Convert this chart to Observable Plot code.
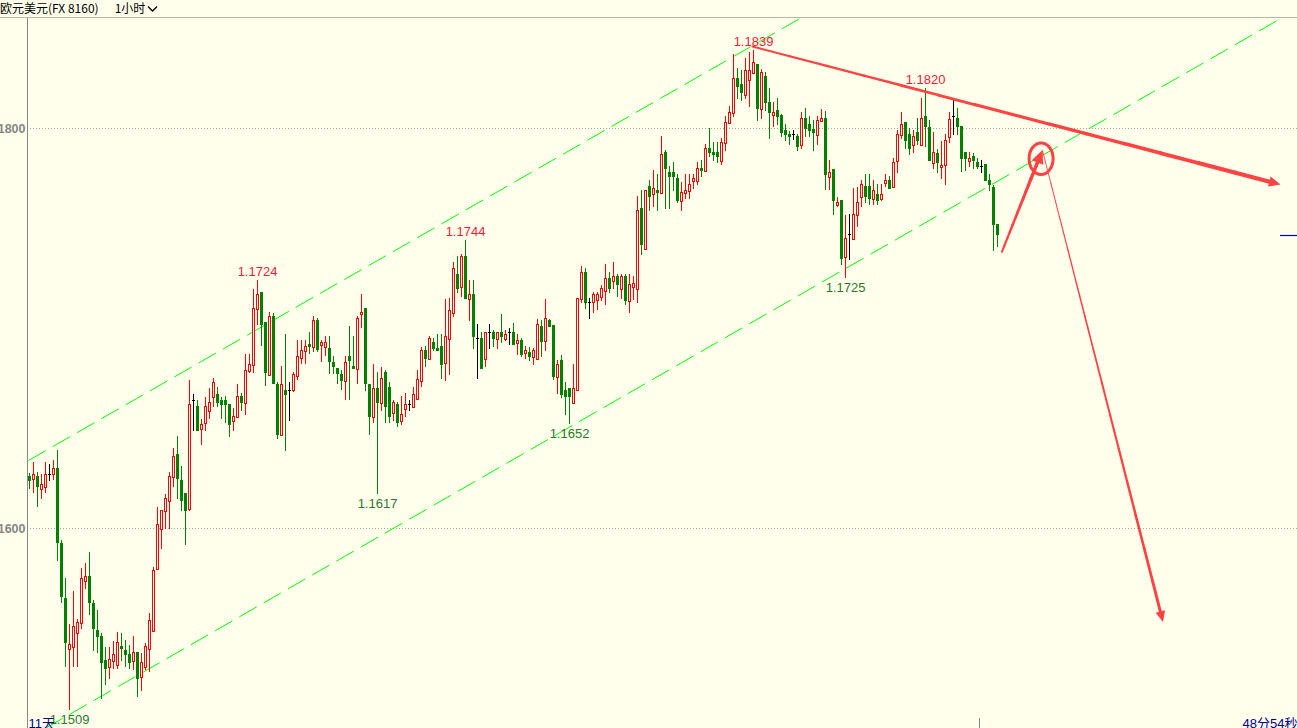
<!DOCTYPE html>
<html><head><meta charset="utf-8">
<script src="https://cdn.jsdelivr.net/npm/d3@7"></script>
<script src="https://cdn.jsdelivr.net/npm/@observablehq/plot@0.6"></script>
<style>
html,body{margin:0;padding:0;background:#ffffec;overflow:hidden;}
#hdr{height:17px;border-bottom:1px solid #b8b8a4;font-family:"Noto Sans CJK SC",sans-serif;font-size:12px;line-height:16px;color:#000;white-space:nowrap;}
#chart svg{display:block;}
</style></head><body>
<div id="hdr"><span>欧元美元(FX 8160)</span><span style="margin-left:16px">1小时</span><svg width="11" height="8" style="margin-left:2px;vertical-align:0px"><polyline points="1,1.5 5.5,6 10,1.5" fill="none" stroke="#000" stroke-width="1.3"/></svg></div>
<div id="chart"></div>
<script>
// ---- candle data (EUR/USD, 1 hour) ----
const opens = [1.1626,1.16245,1.1626,1.16195,1.16205,1.1627,1.1627,1.163,1.15925,1.1565,
1.15395,1.15405,1.15475,1.15525,1.15735,1.1576,1.15625,1.1549,1.1546,1.1534,
1.15305,1.15335,1.15315,1.1541,1.1539,1.1537,1.15335,1.1538,1.15255,1.15305,
1.15395,1.15485,1.15795,1.15995,1.16085,1.16135,1.16255,1.1637,1.1624,1.16175,
1.16095,1.1664,1.1661,1.16495,1.16525,1.16585,1.16655,1.1667,1.1664,1.1664,
1.1662,1.16535,1.16555,1.1666,1.16625,1.16785,1.16815,1.17095,1.1718,1.1703,
1.16765,1.1706,1.1672,1.16465,1.1669,1.1669,1.1669,1.1676,1.1685,1.16885,
1.1692,1.16905,1.1704,1.16915,1.16905,1.169,1.1683,1.168,1.1677,1.16735,
1.1686,1.1681,1.16795,1.1707,1.171,1.1672,1.16555,1.167,1.16625,1.1678,
1.16705,1.16575,1.1662,1.16535,1.16595,1.1662,1.16605,1.16645,1.16735,1.1689,
1.16845,1.1693,1.169,1.1691,1.16825,1.16945,1.17075,1.1727,1.17205,1.1736,
1.17145,1.1717,1.1695,1.1695,1.16845,1.1698,1.1698,1.16945,1.1698,1.16945,
1.1698,1.1698,1.16925,1.1694,1.16875,1.1688,1.16855,1.16845,1.1701,1.16935,
1.1704,1.17015,1.16755,1.1684,1.1669,1.167,1.16625,1.1669,1.17145,1.1728,
1.1713,1.1713,1.1714,1.17155,1.17185,1.1725,1.17235,1.1726,1.17195,1.1726,
1.17135,1.17205,1.17195,1.176,1.17395,1.1771,1.1767,1.1769,1.17675,1.1788,
1.1778,1.1778,1.1775,1.17635,1.17675,1.17685,1.17735,1.17735,1.178,1.17785,
1.179,1.1788,1.1788,1.17835,1.17925,1.18025,1.18075,1.1825,1.1822,1.18165,
1.1824,1.18275,1.1832,1.18095,1.1826,1.1813,1.18065,1.1809,1.18065,1.1799,
1.1797,1.1797,1.1796,1.17915,1.1805,1.1802,1.17995,1.17965,1.18035,1.1805,
1.17755,1.17795,1.17615,1.1764,1.17355,1.1747,1.17445,1.17565,1.17655,1.1771,
1.1771,1.17645,1.1767,1.17645,1.17725,1.1774,1.17705,1.17835,1.17965,1.1803,
1.1797,1.17915,1.1798,1.17915,1.1806,1.18005,1.17825,1.17875,1.17805,1.17815,
1.17955,1.1806,1.1805,1.1801,1.1788,1.17835,1.1786,1.1783,1.1781,1.1782,
1.1774,1.17705,1.1752];
const highs = [1.16275,1.1633,1.1628,1.1627,1.1633,1.1632,1.1634,1.1639,1.1594,1.1575,
1.1552,1.15685,1.15545,1.158,1.15825,1.1588,1.1564,1.1559,1.15475,1.15405,
1.15405,1.15435,1.1548,1.15475,1.1544,1.15415,1.1546,1.1538,1.15375,1.15425,
1.15575,1.15805,1.16105,1.1609,1.1617,1.1628,1.164,1.1646,1.1631,1.16175,
1.1674,1.1667,1.1664,1.16545,1.16655,1.167,1.1675,1.16705,1.16655,1.1666,
1.1662,1.166,1.1672,1.16675,1.1687,1.1687,1.17195,1.1724,1.1718,1.1703,
1.1708,1.17075,1.1673,1.1681,1.1697,1.1673,1.1678,1.1694,1.1694,1.1694,
1.1698,1.1706,1.1705,1.1694,1.1696,1.1696,1.1686,1.168,1.1679,1.1686,
1.1701,1.1696,1.1706,1.1717,1.171,1.1672,1.1682,1.1678,1.16805,1.1679,
1.1673,1.1664,1.1663,1.1666,1.16675,1.1664,1.16705,1.1679,1.16905,1.1691,
1.1696,1.1695,1.1697,1.1697,1.17145,1.1715,1.1733,1.1736,1.1737,1.1744,
1.1724,1.1724,1.1702,1.1698,1.1698,1.1702,1.1699,1.1698,1.1707,1.1699,
1.17,1.17025,1.1697,1.1695,1.1691,1.16905,1.169,1.17045,1.1704,1.17145,
1.17045,1.17015,1.1684,1.16865,1.1673,1.167,1.1682,1.1715,1.1731,1.173,
1.1715,1.1718,1.1718,1.17215,1.1732,1.1728,1.1733,1.1727,1.1727,1.1727,
1.1727,1.1726,1.1766,1.1769,1.1769,1.1774,1.1779,1.1777,1.1796,1.1789,
1.1781,1.1783,1.1777,1.1773,1.1777,1.1777,1.1777,1.1783,1.1784,1.1792,
1.18,1.1793,1.1793,1.1795,1.1806,1.1811,1.1837,1.183,1.1829,1.1835,
1.1838,1.1839,1.1832,1.18295,1.1828,1.182,1.1813,1.1815,1.1807,1.1802,
1.17985,1.1799,1.1797,1.1808,1.181,1.1806,1.1804,1.1806,1.18095,1.18085,
1.1784,1.17795,1.17655,1.1764,1.17565,1.1757,1.177,1.17705,1.1774,1.1777,
1.1777,1.1774,1.1772,1.1772,1.1777,1.1776,1.1785,1.1799,1.1808,1.1803,
1.18,1.1799,1.1805,1.1815,1.182,1.1804,1.1798,1.17895,1.17935,1.1797,
1.1808,1.1814,1.181,1.1801,1.1788,1.1788,1.17875,1.1785,1.1784,1.1782,
1.1777,1.17715,1.1752];
const lows = [1.16195,1.16175,1.16105,1.16145,1.16175,1.16235,1.1624,1.15835,1.15625,1.15305,
1.1509,1.15305,1.15305,1.15495,1.15695,1.15565,1.15385,1.15375,1.15145,1.15215,
1.15245,1.15295,1.15295,1.15335,1.15305,1.15295,1.1529,1.15155,1.15185,1.1529,
1.1528,1.15485,1.15795,1.15895,1.15995,1.15995,1.16205,1.16145,1.16085,1.15915,
1.16085,1.16485,1.16485,1.16415,1.16485,1.16545,1.16605,1.16605,1.16545,1.16525,
1.16455,1.16485,1.16555,1.16585,1.16565,1.16775,1.16775,1.17015,1.1691,1.1671,
1.16765,1.1672,1.16445,1.16465,1.16385,1.16535,1.1668,1.1674,1.1682,1.1682,
1.1687,1.1688,1.1688,1.1683,1.1686,1.1677,1.1677,1.1672,1.1669,1.1664,
1.1664,1.16795,1.1672,1.17,1.16685,1.16465,1.16525,1.1617,1.16585,1.16525,
1.16525,1.16535,1.16505,1.16515,1.16555,1.16585,1.16605,1.16645,1.16705,1.16805,
1.16845,1.16885,1.16885,1.16745,1.16735,1.16765,1.17055,1.17175,1.17155,1.17145,
1.17035,1.16895,1.16745,1.16795,1.16805,1.16895,1.16905,1.16895,1.16925,1.16935,
1.16915,1.16915,1.16865,1.16855,1.16845,1.16835,1.16815,1.16845,1.16855,1.16885,
1.17005,1.1674,1.1667,1.1665,1.16565,1.1652,1.16625,1.1669,1.17125,1.17095,
1.17045,1.17075,1.1709,1.17135,1.17115,1.17175,1.17195,1.17155,1.17145,1.17115,
1.17075,1.1714,1.17125,1.17365,1.17395,1.17585,1.17605,1.17585,1.17675,1.17595,
1.17595,1.17685,1.17625,1.17585,1.17645,1.17645,1.17695,1.17715,1.17755,1.17785,
1.17855,1.17835,1.17825,1.17815,1.17885,1.18025,1.18055,1.18145,1.18135,1.18145,
1.18105,1.18275,1.18035,1.18045,1.18085,1.17945,1.18005,1.18015,1.17955,1.17935,
1.17915,1.1794,1.17885,1.17895,1.17955,1.17955,1.17885,1.17915,1.18035,1.1769,
1.1769,1.17565,1.17605,1.17315,1.1725,1.1734,1.17445,1.17505,1.17605,1.17625,
1.17615,1.17615,1.17615,1.17635,1.17705,1.17695,1.17705,1.17775,1.17945,1.17895,
1.17865,1.17875,1.17915,1.17915,1.17905,1.17835,1.17795,1.17775,1.17745,1.17715,
1.17925,1.17965,1.17965,1.1778,1.17785,1.17805,1.17795,1.17795,1.17775,1.17735,
1.17685,1.17385,1.17405];
const closes = [1.16235,1.1627,1.16205,1.1622,1.1627,1.1627,1.163,1.15925,1.15655,1.15425,
1.1542,1.1551,1.1553,1.1575,1.1576,1.15625,1.15495,1.15455,1.15325,1.15295,
1.15345,1.1537,1.1543,1.15395,1.15365,1.15325,1.1538,1.15245,1.1533,1.1541,
1.1554,1.1579,1.1602,1.1609,1.1615,1.1626,1.1636,1.16245,1.16135,1.16085,
1.1662,1.1664,1.16485,1.1652,1.1661,1.1663,1.1673,1.16625,1.16615,1.16615,
1.16515,1.1656,1.1666,1.16625,1.1679,1.1682,1.171,1.1717,1.17015,1.16775,
1.1706,1.1672,1.16465,1.1672,1.16665,1.1669,1.1677,1.1686,1.1689,1.1691,
1.16905,1.1704,1.1689,1.1693,1.1693,1.1683,1.16805,1.1677,1.16735,1.1683,
1.16835,1.16795,1.1705,1.1708,1.1672,1.16555,1.167,1.16625,1.1675,1.16605,
1.16555,1.1663,1.16525,1.1657,1.1662,1.1662,1.1667,1.16745,1.1689,1.16845,
1.1695,1.16895,1.16885,1.16815,1.1696,1.1709,1.173,1.17195,1.1736,1.17145,
1.1717,1.16955,1.1695,1.16795,1.1698,1.1698,1.16945,1.1698,1.16955,1.1697,
1.1698,1.16915,1.1694,1.16865,1.1689,1.16855,1.1689,1.1702,1.1693,1.1705,
1.17005,1.16755,1.1682,1.16665,1.16655,1.16655,1.167,1.1715,1.1728,1.17125,
1.1713,1.1717,1.1717,1.172,1.1725,1.17195,1.1726,1.17215,1.1726,1.17135,
1.1722,1.17225,1.1759,1.17415,1.1769,1.17655,1.177,1.17675,1.1787,1.17795,
1.17755,1.17755,1.17635,1.1768,1.1769,1.1772,1.1775,1.178,1.17785,1.179,
1.17875,1.17865,1.17855,1.1793,1.1803,1.1808,1.1825,1.18205,1.18175,1.1829,
1.1829,1.1833,1.18095,1.1828,1.18125,1.18075,1.1808,1.18055,1.17975,1.17965,
1.17955,1.1797,1.17905,1.1805,1.17995,1.17985,1.17975,1.1804,1.1805,1.17765,
1.1778,1.17635,1.1763,1.17345,1.1745,1.1747,1.1757,1.1763,1.1772,1.17655,
1.17645,1.1769,1.17635,1.1767,1.1774,1.17695,1.1783,1.1797,1.1802,1.17935,
1.17895,1.1796,1.17935,1.1805,1.18005,1.17835,1.1788,1.17825,1.17815,1.1794,
1.18045,1.1806,1.18005,1.17845,1.17845,1.1785,1.17835,1.17805,1.1781,1.17735,
1.17715,1.17515,1.17465];

// y-axis grid prices
const gridPrices = [1.16, 1.18];
// marked swing highs / lows (candle indices)
const peakIdx = [57, 109, 181, 224];
const troughIdx = [10, 87, 135, 204];
// drawn channel lines: [index, price] endpoints
const channelUpper = [[-0.25, 1.1634], [192.6, 1.1855]];
const channelLower = [[3.9, 1.15], [312.8, 1.1855]];
// drawn red arrows: start and tip, [index, price]
const arrowStart = [[180.75, 1.1841], [243.1, 1.17383], [253.25, 1.1789]];
const arrowTip = [[312.75, 1.1772], [253.25, 1.17893], [283.375, 1.15533]];
// drawn red ellipse centre
const ringCenter = [[252.9, 1.17849]];
// session tick on time axis
const sessionTick = [237.5];
const cornerLeft = "11天";
const cornerRight = "48分54秒";

// ---- layout / style ----
const W = 1297, H = 710, ML = 27;
const xDomain = [-0.5, 317], yDomain = [1.15, 1.1855];
const BG = "#ffffec", RED = "#ff0000", GREEN = "#008000", ARED = "#ff4242";
const arrowStyle = [{w1: 2, w2: 4.2, r: 5.8}, {w1: 2, w2: 3.6, r: 6.8}, {w1: 0.8, w2: 3, r: 5.4}];

const candles = opens.map((o, i) => ({i, open: o, high: highs[i], low: lows[i], close: closes[i]}));
const up = candles.filter(d => d.close > d.open);
const down = candles.filter(d => d.close < d.open);
const doji = candles.filter(d => d.close === d.open);

const sx = d3.scaleLinear(xDomain, [ML, W]);
const sy = d3.scaleLinear(yDomain, [H, 0]);

function headSymbol(ux, uy) {
  return {draw(ctx, size) {
    const r = Math.sqrt(size / Math.PI), L = 2 * r, w = 1.8 * r;
    const bx = -L * ux, by = -L * uy, px = -uy * w / 2, py = ux * w / 2;
    ctx.moveTo(0, 0); ctx.lineTo(bx + px, by + py); ctx.lineTo(bx - px, by - py); ctx.closePath();
  }};
}
const ellipseSymbol = {draw(ctx, size) {
  const ry = Math.sqrt(size / Math.PI), rx = ry * 0.76, k = 0.5523;
  ctx.moveTo(rx, 0);
  ctx.bezierCurveTo(rx, k * ry, k * rx, ry, 0, ry);
  ctx.bezierCurveTo(-k * rx, ry, -rx, k * ry, -rx, 0);
  ctx.bezierCurveTo(-rx, -k * ry, -k * rx, -ry, 0, -ry);
  ctx.bezierCurveTo(k * rx, -ry, rx, -k * ry, rx, 0);
  ctx.closePath();
}};

const arrowMarks = [];
arrowStart.forEach((s, k) => {
  const t = arrowTip[k], st = arrowStyle[k];
  const p0 = [sx(s[0]), sy(s[1])], p1 = [sx(t[0]), sy(t[1])];
  const dx = p1[0] - p0[0], dy = p1[1] - p0[1], len = Math.hypot(dx, dy);
  const ux = dx / len, uy = dy / len;
  const back = 2 * st.r * 0.7;
  const e = [p1[0] - ux * back, p1[1] - uy * back];
  const n = 14, segs = [];
  for (let j = 0; j < n; j++) {
    const a = j / n, b = (j + 1) / n;
    segs.push({
      x1: sx.invert(p0[0] + (e[0] - p0[0]) * a), y1: sy.invert(p0[1] + (e[1] - p0[1]) * a),
      x2: sx.invert(p0[0] + (e[0] - p0[0]) * b), y2: sy.invert(p0[1] + (e[1] - p0[1]) * b),
      w: st.w1 + (st.w2 - st.w1) * (j + 0.5) / n
    });
  }
  arrowMarks.push(Plot.link(segs, {x1: "x1", y1: "y1", x2: "x2", y2: "y2", stroke: ARED, strokeWidth: "w", strokeLinecap: "round"}));
  arrowMarks.push(Plot.dot([t], {x: d => d[0], y: d => d[1], r: st.r, symbol: headSymbol(ux, uy), fill: ARED, stroke: "none"}));
});

const chart = Plot.plot({
  width: W, height: H,
  marginLeft: ML, marginRight: 0, marginTop: 0, marginBottom: 0,
  x: {domain: xDomain, axis: null},
  y: {domain: yDomain, axis: null},
  style: {background: "transparent", fontFamily: "'Liberation Sans', 'Noto Sans CJK SC', sans-serif", fontSize: "12px", overflow: "visible"},
  marks: [
    Plot.ruleY(gridPrices, {y: d => d, stroke: "#a9a9a9", strokeDasharray: "1,2"}),
    Plot.ruleX([xDomain[0]], {stroke: "#888888"}),
    Plot.text(gridPrices, {x: xDomain[0], y: d => d, text: d => d.toFixed(4), textAnchor: "end", dx: -2, fill: "#868686", fontWeight: "bold", fontSize: 12.5}),
    Plot.link([channelUpper, channelLower], {x1: d => d[0][0], y1: d => d[0][1], x2: d => d[1][0], y2: d => d[1][1], stroke: "#00ff00", strokeWidth: 1, strokeDasharray: "20,8"}),
    // wicks
    Plot.ruleX(up, {x: "i", y1: "low", y2: "high", stroke: RED, shapeRendering: "crispEdges"}),
    Plot.ruleX(down, {x: "i", y1: "low", y2: "high", stroke: GREEN, shapeRendering: "crispEdges"}),
    Plot.ruleX(doji, {x: "i", y1: "low", y2: "high", stroke: "#000", shapeRendering: "crispEdges"}),
    // bodies
    Plot.rect(down, {x1: d => d.i - 0.375, x2: d => d.i + 0.375, y1: "open", y2: "close", fill: GREEN, shapeRendering: "crispEdges"}),
    Plot.rect(up, {x1: d => d.i - 0.25, x2: d => d.i + 0.25, y1: "open", y2: "close", fill: BG, stroke: RED, strokeWidth: 1, shapeRendering: "crispEdges"}),
    Plot.ruleY(doji, {y: "close", x1: d => d.i - 0.375, x2: d => d.i + 0.375, stroke: "#000", shapeRendering: "crispEdges"}),
    // swing labels
    Plot.text(peakIdx, {x: d => d, y: d => highs[d], text: d => highs[d].toFixed(4), dy: -9, fill: "#ee1c36", fontSize: 13}),
    Plot.text(troughIdx, {x: d => d, y: d => lows[d], text: d => lows[d].toFixed(4), dy: 9, fill: "#2a7a2a", fontSize: 13}),
    // annotations
    ...arrowMarks,
    Plot.dot(ringCenter, {x: d => d[0], y: d => d[1], r: 15.8, symbol: ellipseSymbol, fill: "none", stroke: ARED, strokeWidth: 3}),
    // last price marker
    Plot.ruleY([closes[closes.length - 1]], {x1: xDomain[1] - 4.25, x2: xDomain[1], stroke: "#0000cc", strokeWidth: 1.2}),
    // session tick
    Plot.ruleX(sessionTick, {y1: yDomain[0], y2: yDomain[0] + 0.0005, stroke: "#888888"}),
    // corner texts
    Plot.text([cornerLeft], {frameAnchor: "bottom-left", text: d => d, textAnchor: "start", lineAnchor: "bottom", dx: 1, dy: -1, fill: "#000088", fontSize: 13}),
    Plot.text([cornerRight], {frameAnchor: "bottom-right", text: d => d, textAnchor: "end", lineAnchor: "bottom", dx: 0, dy: -1, fill: "#000088", fontSize: 13})
  ]
});
document.getElementById("chart").append(chart);
</script>
</body></html>
